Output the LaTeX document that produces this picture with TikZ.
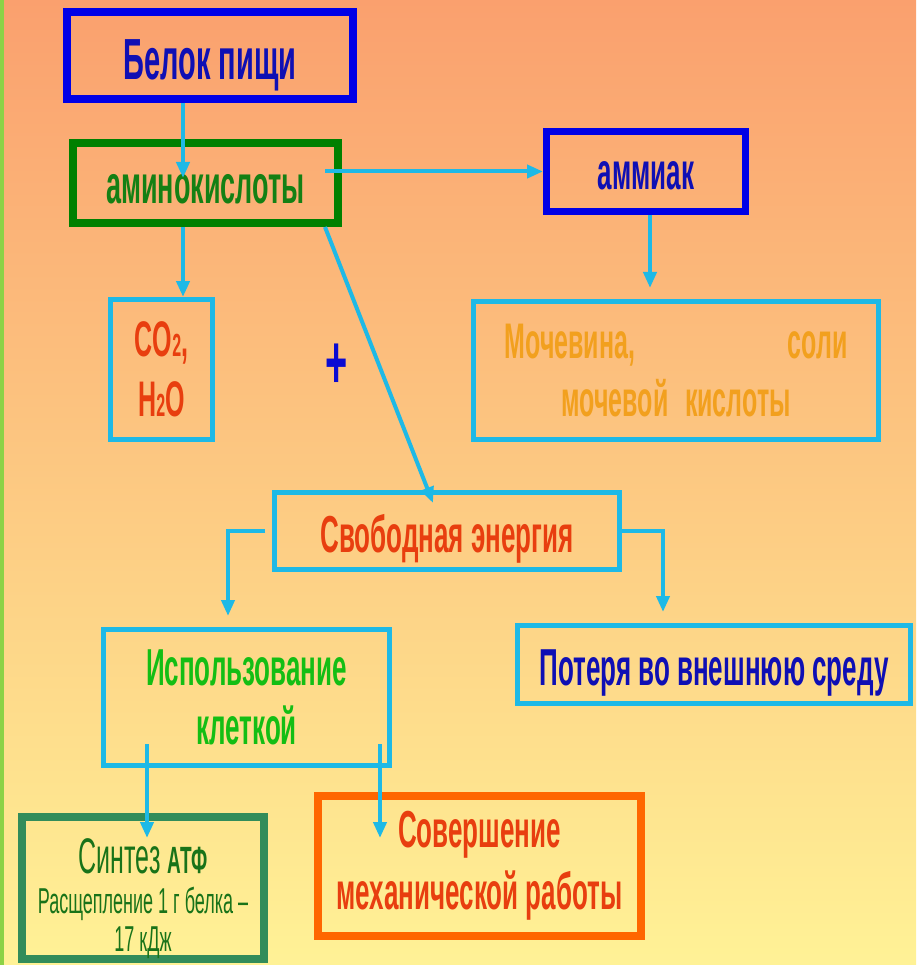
\documentclass[tikz,border=0pt]{standalone}
\usepackage{fontspec}
\setmainfont[FakeStretch=0.5]{Liberation Sans}
\usetikzlibrary{arrows.meta,positioning}

\definecolor{flowcyan}{RGB}{30,185,230}
\definecolor{boxblue}{RGB}{0,0,230}
\definecolor{textblue}{RGB}{15,15,180}
\definecolor{plusblue}{RGB}{10,10,210}
\definecolor{boxgreen}{RGB}{0,128,0}
\definecolor{textgreen}{RGB}{20,128,20}
\definecolor{lightgreen}{RGB}{20,190,20}
\definecolor{darkgreen}{RGB}{25,115,25}
\definecolor{tealgreen}{RGB}{50,140,90}
\definecolor{redorange}{RGB}{232,62,15}
\definecolor{boxorange}{RGB}{255,102,0}
\definecolor{textorange}{RGB}{242,160,30}
\definecolor{bgtop}{RGB}{250,160,110}
\definecolor{bgbottom}{RGB}{255,242,150}
\definecolor{stripgreen}{RGB}{140,210,70}

\newcommand{\smalltwo}{{\fontsize{32}{32}\selectfont 2}}

\begin{document}
\begin{tikzpicture}[x=1pt, y=-1pt,
            box/.style={draw, rectangle, inner sep=0pt, align=center,
                font=\fontsize{52}{58}\selectfont\bfseries}, % every frame
            thickbox/.style={box, line width=8pt},
            thinbox/.style={box, draw=flowcyan, line width=5pt},
            oneline/.style={text height=42pt, text depth=0pt},
            flow/.style={draw=flowcyan, line width=4pt,
                -{Triangle[width=13pt,length=16pt]}}, % cyan arrows
        ]
        % background
        \useasboundingbox (0,0) rectangle (916,965);
        \fill[top color=bgtop, bottom color=bgbottom] (0,0) rectangle (916,965);
        \fill[stripgreen] (0,0) rectangle (4,965);

        \node (belok) [thickbox, oneline, draw=boxblue, text=textblue, minimum width=286pt, minimum height=87pt,
            text height=49pt, font=\fontsize{58}{64}\selectfont\bfseries] at (210,55.5) {Белок пищи};
        \node (amino) [thickbox, oneline, draw=boxgreen, text=textgreen, minimum width=265pt, minimum height=80pt,
            font=\fontsize{54}{60}\selectfont\bfseries] at (205.5,183) {аминокислоты};
        \node (ammiak) [thickbox, oneline, draw=boxblue, text=textblue, minimum width=199pt, minimum height=80pt,
            line width=7pt, text height=37pt] at (646,171.5) {аммиак};
        \node (urea) [thinbox, text=textorange, minimum width=405pt, minimum height=138pt, text width=343pt,
            font=\fontsize{50}{58}\selectfont\bfseries] at (676,370.5) {Мочевина,\hfill соли\\\mbox{мочевой кислоты}};
        \node (co2) [thinbox, text=redorange, minimum width=102pt, minimum height=140pt,
            font=\fontsize{50}{60}\selectfont\bfseries] at (161.5,369.5) {CO\smalltwo,\\H\smalltwo O};
        \node (plus) [text=plusblue, inner sep=0pt, font=\fontsize{76}{76}\selectfont\bfseries] at (337,366) {+};
        \node (svob) [thinbox, oneline, text=redorange, minimum width=345pt, minimum height=77pt] at (447,531) {Свободная энергия};
        \node (loss) [thinbox, oneline, text=textblue, minimum width=393pt, minimum height=78pt] at (714,664.5) {Потеря во внешнюю среду};
        \node (use) [thinbox, text=lightgreen, minimum width=286pt, minimum height=136pt,
            font=\fontsize{52}{59}\selectfont\bfseries] at (246.5,697.5) {Использование\\клеткой};
        \node (atp) [thickbox, draw=tealgreen, text=darkgreen, minimum width=242pt, minimum height=142pt,
            font=\fontsize{36}{38}\selectfont] at (143,888)
            {\rule{0pt}{56pt}{\fontsize{50}{50}\selectfont Синтез \bfseries\fontsize{38}{38}\selectfont АТФ}\\[2pt]
             Расщепление 1 г белка –\\17 кДж};
        \node (work) [thickbox, draw=boxorange, text=redorange, minimum width=323pt, minimum height=140pt,
            font=\fontsize{52}{62}\selectfont\bfseries] at (479.5,866) {Совершение\\механической работы};

        % free ends of the connectors
        \coordinate (tipA) at (183,178);
        \coordinate (startC) at (325,0);
        \coordinate (tipD) at (650,288);
        \coordinate (startE) at (325,0);
        \coordinate (tipE) at (433,503);
        \coordinate (tipF) at (228,616);
        \coordinate (tipG) at (663,612);
        \coordinate (startH) at (147,744);
        \coordinate (tipH) at (147,838);
        \coordinate (startI) at (380,744);
        \coordinate (tipI) at (380,838);

        \draw[flow] (belok.south -| tipA) -- (tipA);
        \draw[flow] (amino.south -| tipA) -- (co2.north -| tipA);
        \draw[flow] (ammiak.west -| startC) -- (ammiak.west);
        \draw[flow] (ammiak.south -| tipD) -- (tipD);
        \draw[flow] (amino.south -| startE) -- (tipE);
        \draw[flow] ([xshift=-7pt]svob.west) -| (tipF);
        \draw[flow] (svob.east) -| (tipG);
        \draw[flow] (startH) -- (tipH);
        \draw[flow] (startI) -- (tipI);
    \end{tikzpicture}
\end{document}
